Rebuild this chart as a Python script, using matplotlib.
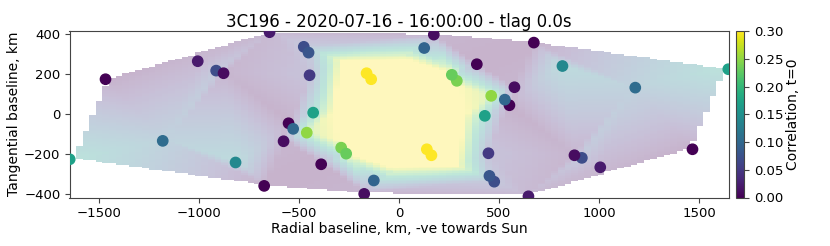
import numpy as np
import matplotlib
matplotlib.use('Agg')
import matplotlib.pyplot as plt
import matplotlib.tri as mtri

# one half of the baselines, the other half is the mirror image
radial = [-1467, -1006, -914, -877, -647, -476, -452, -447, -429, -552, -529, -461,
          -577, -1181, -1646, -817, -389, -289, -264, -126, -174, -674, -162, -139]
tangential = [175, 265, 218, 205, 410, 337, 308, 195, 8, -45, -73, -92,
              -135, -133, -225, -241, -250, -167, -197, -331, -398, -358, 205, 175]
corr = [0.0, 0.02, 0.07, 0.01, 0.02, 0.07, 0.08, 0.05, 0.17, 0.0, 0.10, 0.25,
        0.01, 0.105, 0.17, 0.14, 0.0, 0.24, 0.23, 0.095, 0.01, 0.0, 0.30, 0.30]

# edge of the saturated patch in the middle of the map
patch_radial = [-292, 8, -333, -300, -250, -42]
patch_tangential = [262, 270, 10, -138, -205, -272]
patch_corr = 0.30
zero_baseline_corr = 1.0

x = np.array(radial, dtype=float)
y = np.array(tangential, dtype=float)
c = np.array(corr)
xs = np.concatenate([x, -x])
ys = np.concatenate([y, -y])
cs = np.concatenate([c, c])

px = np.array(patch_radial, dtype=float)
py = np.array(patch_tangential, dtype=float)
bg_x = np.concatenate([xs, px, -px, [0]])
bg_y = np.concatenate([ys, py, -py, [0]])
bg_c = np.concatenate([cs, np.full(2 * len(px), patch_corr), [zero_baseline_corr]])

fig = plt.figure(figsize=(8.3, 2.46), dpi=100)
ax = fig.add_axes([69.5 / 830, 1 - 197.5 / 246, 659 / 830, 166.5 / 246])

# background map: linear interpolation between the baselines
tri = mtri.Triangulation(bg_x, bg_y)
interp = mtri.LinearTriInterpolator(tri, bg_c)
gx = np.linspace(-1650, 1650, 100)
gy = np.linspace(-400, 400, 100)
grid = interp(*np.meshgrid(gx, gy))
ax.imshow(grid, extent=[-1650, 1650, -400, 400], origin='lower', aspect='auto',
          cmap='viridis', vmin=0, vmax=0.3, alpha=0.3, interpolation='nearest')

sc = ax.scatter(xs, ys, c=cs, cmap='viridis', vmin=0, vmax=0.3, s=55, zorder=3)
ax.set_xlim(-1647, 1647)
ax.set_ylim(-416, 416)
ax.set_yticks([-400, -200, 0, 200, 400])
ax.tick_params(labelsize=9.5, pad=3, color='#444444')
for s in ax.spines.values():
    s.set_edgecolor('#444444')
ax.set_xlabel('Radial baseline, km, -ve towards Sun', fontsize=10, labelpad=1.5)
ax.set_ylabel('Tangential baseline, km', fontsize=10, labelpad=2)
ax.set_title('3C196 - 2020-07-16 - 16:00:00 - tlag 0.0s', fontsize=12, pad=3)

cax = fig.add_axes([736 / 830, 1 - 197.5 / 246, 8 / 830, 166.5 / 246])
cbar = fig.colorbar(sc, cax=cax)
cbar.set_label('Correlation, t=0', fontsize=10, labelpad=2)
cbar.ax.tick_params(labelsize=9.5, color='#444444')
cbar.outline.set_edgecolor('#444444')
cbar.set_ticks([0, 0.05, 0.10, 0.15, 0.20, 0.25, 0.30])
cbar.ax.set_yticklabels(['0.00', '0.05', '0.10', '0.15', '0.20', '0.25', '0.30'])

fig.savefig('out.png', dpi=100)
